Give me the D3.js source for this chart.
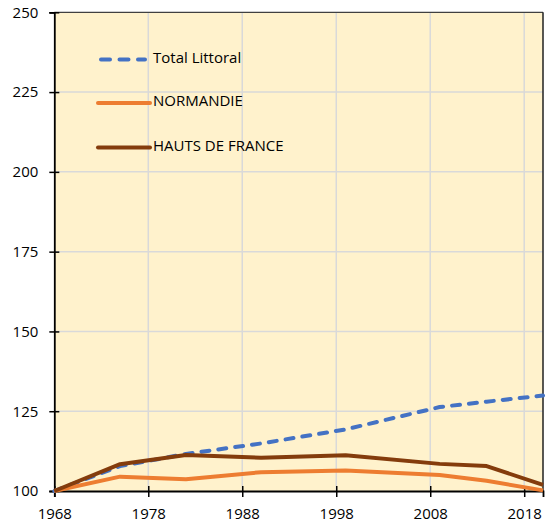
<!DOCTYPE html>
<html>
<head>
<meta charset="utf-8">
<script src="https://cdn.jsdelivr.net/npm/d3@7"></script>
<style>
  html, body { margin: 0; padding: 0; background: #fff; }
  svg { display: block; font-family: "Open Sans", "Liberation Sans", sans-serif; }
</style>
</head>
<body>
<svg id="chart" width="546" height="526"></svg>
<script>
// ---- data ----
const years = [1968, 1975, 1982, 1990, 1999, 2009, 2014, 2020];
const totalLittoral = [100, 107.8, 111.6, 114.9, 119.3, 126.3, 128.0, 129.9];
const normandie = [100, 104.5, 103.7, 105.9, 106.4, 105.0, 103.2, 100.2];
const hautsDeFrance = [100, 108.4, 111.3, 110.4, 111.2, 108.5, 107.8, 101.9];
const seriesNames = ["Total Littoral", "NORMANDIE", "HAUTS DE FRANCE"];
const xTicks = [1968, 1978, 1988, 1998, 2008, 2018];
const yTicks = [100, 125, 150, 175, 200, 225, 250];

(function () {
const series = [
  { name: seriesNames[0], values: totalLittoral, color: "#4472C4", dash: "8,9" },
  { name: seriesNames[1], values: normandie, color: "#ED7D31", dash: null },
  { name: seriesNames[2], values: hautsDeFrance, color: "#843C0C", dash: null }
];

const svg = d3.select("#chart");
const pLeft = 54.3, pRight = 543, pTop = 12.3, pBottom = 491;
const fs = 15;

const x = d3.scaleLinear().domain([1968, 2020]).range([pLeft, pRight]);
const y = d3.scaleLinear().domain([100, 250]).range([pBottom, pTop]);

// plot background
svg.append("rect")
  .attr("x", pLeft).attr("y", pTop)
  .attr("width", pRight - pLeft).attr("height", pBottom - pTop)
  .attr("fill", "#FFF2CC");

// gridlines
svg.append("g").selectAll("line").data(yTicks.slice(1, -1)).join("line")
  .attr("x1", pLeft).attr("x2", pRight)
  .attr("y1", d => y(d)).attr("y2", d => y(d))
  .attr("stroke", "#D9D9D9").attr("stroke-width", 1.5);
svg.append("g").selectAll("line").data(xTicks.slice(1)).join("line")
  .attr("x1", d => x(d)).attr("x2", d => x(d))
  .attr("y1", pTop).attr("y2", pBottom)
  .attr("stroke", "#D9D9D9").attr("stroke-width", 1.5);

// frame (top / right)
svg.append("line").attr("x1", pLeft).attr("x2", pRight).attr("y1", pTop).attr("y2", pTop)
  .attr("stroke", "#404040").attr("stroke-width", 1.2);
svg.append("line").attr("x1", pRight).attr("x2", pRight).attr("y1", pTop).attr("y2", pBottom)
  .attr("stroke", "#202020").attr("stroke-width", 1.5);

// axes
const yAxis = svg.append("g").attr("transform", `translate(${pLeft},0)`)
  .call(d3.axisLeft(y).tickValues(yTicks).tickSize(5).tickPadding(11).tickFormat(d3.format("d")));
const xAxis = svg.append("g").attr("transform", `translate(0,${pBottom})`)
  .call(d3.axisBottom(x).tickValues(xTicks).tickSize(6).tickPadding(11).tickFormat(d3.format("d")));

[yAxis, xAxis].forEach(g => {
  g.select(".domain").attr("stroke", "#000").attr("stroke-width", 1.8);
  g.selectAll(".tick line").attr("stroke", "#000").attr("stroke-width", 1.5);
  g.selectAll(".tick text").attr("fill", "#000").attr("font-size", fs)
    .attr("font-family", "'Open Sans', 'Liberation Sans', sans-serif");
});
yAxis.selectAll(".tick line").attr("x1", 5).attr("x2", -5);
xAxis.selectAll(".tick line").attr("y1", -5).attr("y2", 6);

// lines
const line = d3.line().x(d => x(d[0])).y(d => y(d[1]));
const plot = svg.append("g");
series.forEach(s => {
  plot.append("path")
    .datum(years.map((yr, i) => [yr, s.values[i]]))
    .attr("d", line)
    .attr("fill", "none")
    .attr("stroke", s.color)
    .attr("stroke-width", 4)
    .attr("stroke-linejoin", "round")
    .attr("stroke-linecap", s.dash ? "round" : "butt")
    .attr("stroke-dasharray", s.dash);
});

// legend
const legendY = [59.5, 103, 147.5];
const leg = svg.append("g");
series.forEach((s, i) => {
  leg.append("line")
    .attr("x1", s.dash ? 101 : 98).attr("x2", s.dash ? 145 : 150)
    .attr("y1", legendY[i]).attr("y2", legendY[i])
    .attr("stroke", s.color).attr("stroke-width", 4)
    .attr("stroke-linecap", "round")
    .attr("stroke-dasharray", s.dash ? "9,9.5" : null);
  leg.append("text")
    .attr("x", 153).attr("y", legendY[i] - 2)
    .attr("dy", "0.35em")
    .attr("font-size", fs)
    .attr("fill", "#000")
    .text(s.name);
});
})();
</script>
</body>
</html>
